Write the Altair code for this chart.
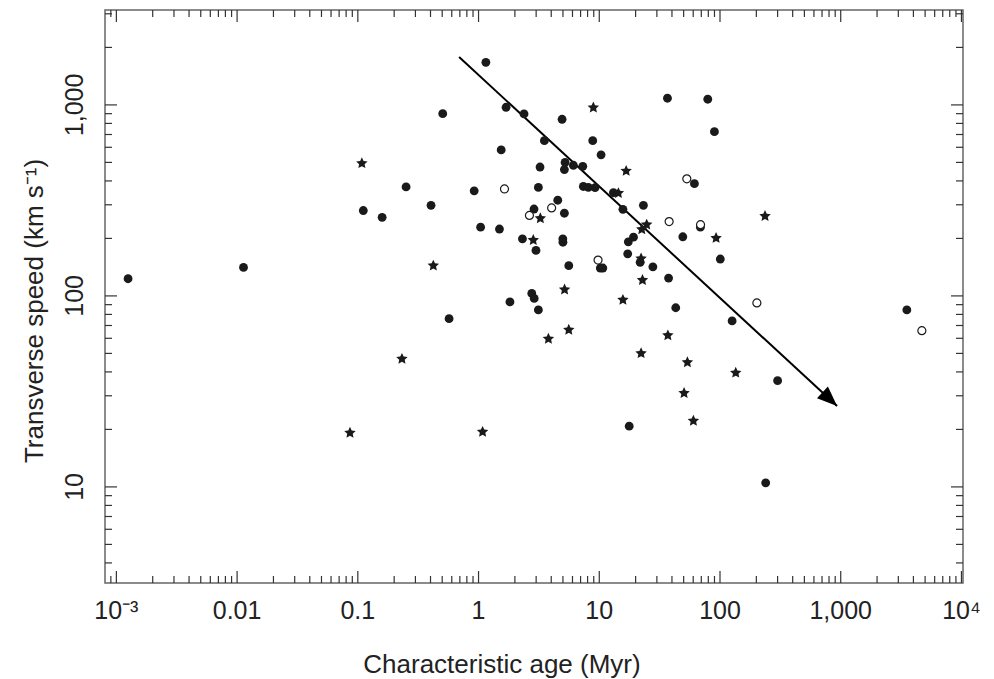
import altair as alt
import pandas as pd

# ---------------- data ----------------
# filled circles
filled_age = [0.00125, 0.0113, 0.111, 0.159, 0.251, 0.404, 0.505, 0.57, 0.92, 1.15,
              1.04, 1.49, 1.54, 1.69, 1.82, 2.31, 2.38, 2.76, 2.89, 2.99,
              2.88, 3.13, 3.13, 3.23, 3.51, 4.53, 4.92, 4.99, 5.0, 5.14,
              5.21, 5.14, 6.10, 7.30, 5.59, 7.38, 8.12, 9.23, 8.83, 10.35,
              10.2, 10.7, 13.1, 15.7, 17.2, 17.4, 19.2, 17.7, 21.8, 23.2,
              27.8, 37.5, 36.7, 43.0, 49.2, 61.4, 68.8, 79.2, 89.9, 100.6,
              126, 300, 239, 3530]
filled_speed = [123, 141, 280, 258, 372, 298, 900, 76, 355, 1670,
                229, 224, 581, 972, 93, 199, 897, 103, 97, 173,
                285, 370, 84.5, 473, 650, 317, 841, 199, 191, 271,
                500, 459, 483, 477, 144, 374, 370, 369, 650, 548,
                140, 140, 347, 284, 166, 192, 203, 20.8, 150, 298,
                142, 124, 1084, 86.7, 204, 387, 229, 1071, 724, 156,
                74, 36, 10.5, 84.5]

# stars
star_age = [0.108, 0.422, 0.232, 0.0861, 1.08, 3.25, 2.84, 3.79, 5.59, 5.16,
            8.93, 14.4, 16.7, 15.7, 22.2, 22.8, 22.2, 24.7, 22.5, 37.0,
            53.7, 50.4, 60.2, 92.8, 135, 236]
star_speed = [495, 144, 46.8, 19.2, 19.4, 255, 196, 59.6, 66.4, 108,
              968, 345, 451, 95.3, 157, 121, 50.1, 236, 223, 62.1,
              44.9, 31.0, 22.2, 201, 39.6, 262]

# open circles
open_age = [1.64, 2.64, 4.03, 9.77, 37.9, 53.1, 69, 202, 4700]
open_speed = [363, 264, 289, 154, 245, 410, 236, 91.9, 65.8]

# arrow (start, tip)
arrow_age = [0.69, 933]
arrow_speed = [1782, 26.5]

# axis ticks / labels / titles
x_major = [0.001, 0.01, 0.1, 1, 10, 100, 1000, 10000]
x_major_labels = ["10⁻³", "0.01", "0.1", "1", "10", "100", "1,000", "10⁴"]
y_major = [10, 100, 1000]
y_major_labels = ["10", "100", "1,000"]
minor_mult = [2, 3, 4, 5, 6, 7, 8, 9]
x_title = "Characteristic age (Myr)"
y_title = "Transverse speed (km s⁻¹)"

# ---------------- layout ----------------
W, H = 858, 573
X_DOMAIN = [0.000805, 10300]
Y_DOMAIN = [3.14, 3140]
FONT = "Liberation Sans"
INK = "#1a1a1a"
TICK = "#333333"
TEXT = "#222222"
MAJ, MIN = 12, 7
STAR = ("M0,-1L0.282,-0.388L0.951,-0.309L0.456,0.148L0.588,0.809L0,0.48"
        "L-0.588,0.809L-0.456,0.148L-0.951,-0.309L-0.282,-0.388Z")
HEAD = "M0,0L-2,-0.8L-2,0.8Z"

x_minor = [m * 10.0 ** k for k in range(-4, 4) for m in minor_mult
           if X_DOMAIN[0] <= m * 10.0 ** k <= X_DOMAIN[1]]
y_minor = [m * 10.0 ** k for k in range(0, 4) for m in minor_mult
           if Y_DOMAIN[0] <= m * 10.0 ** k <= Y_DOMAIN[1]]

xscale = alt.Scale(type="log", domain=X_DOMAIN, nice=False)
yscale = alt.Scale(type="log", domain=Y_DOMAIN, nice=False)


def Xn():
    return alt.X("age:Q", scale=xscale, axis=None)


def Yn():
    return alt.Y("speed:Q", scale=yscale, axis=None)


df_f = pd.DataFrame({"age": filled_age, "speed": filled_speed})
df_s = pd.DataFrame({"age": star_age, "speed": star_speed})
df_o = pd.DataFrame({"age": open_age, "speed": open_speed})
df_a = pd.DataFrame({"age": arrow_age, "speed": arrow_speed})
df_tip = df_a.iloc[[1]]

filled = alt.Chart(df_f).mark_point(shape="circle", filled=True, size=78, color=INK,
                                    opacity=1).encode(x=Xn(), y=Yn())
stars = alt.Chart(df_s).mark_point(shape=STAR, filled=True, size=145, color=INK,
                                   opacity=1).encode(x=Xn(), y=Yn())
opens = alt.Chart(df_o).mark_point(shape="circle", filled=True, size=64, fill="white",
                                   stroke=INK, strokeWidth=1.2, opacity=1).encode(x=Xn(), y=Yn())

arrow_line = alt.Chart(df_a).mark_line(color="black", strokeWidth=2).encode(x=Xn(), y=Yn())
arrow_head = alt.Chart(df_tip).mark_point(shape=HEAD, filled=True,
                                          size=400, angle=43, color="black",
                                          opacity=1).encode(x=Xn(), y=Yn())

df_xmaj = pd.DataFrame({"age": x_major, "label": x_major_labels})
df_xmin = pd.DataFrame({"age": x_minor})
df_ymaj = pd.DataFrame({"speed": y_major, "label": y_major_labels})
df_ymin = pd.DataFrame({"speed": y_minor})


def xticks(df, L):
    base = alt.Chart(df).mark_rule(color=TICK, strokeWidth=1.2)
    return [base.encode(x=Xn(), y=alt.value(H), y2=alt.value(H - L)),
            base.encode(x=Xn(), y=alt.value(0), y2=alt.value(L))]


def yticks(df, L):
    base = alt.Chart(df).mark_rule(color=TICK, strokeWidth=1.2)
    return [base.encode(y=Yn(), x=alt.value(0), x2=alt.value(L)),
            base.encode(y=Yn(), x=alt.value(W), x2=alt.value(W - L))]


x_labels = alt.Chart(df_xmaj).mark_text(font=FONT, fontSize=25, color=TEXT, align="center",
                                        baseline="alphabetic").encode(
    x=Xn(), y=alt.value(H + 36), text="label:N")
y_labels = alt.Chart(df_ymaj).mark_text(font=FONT, fontSize=25, color=TEXT, align="center",
                                        baseline="alphabetic", angle=270).encode(
    y=Yn(), x=alt.value(-22), text="label:N")
x_title_mark = alt.Chart(pd.DataFrame({"t": [x_title]})).mark_text(
    font=FONT, fontSize=26, color=TEXT, align="center", baseline="alphabetic").encode(
    x=alt.value(397), y=alt.value(H + 90), text="t:N")
y_title_mark = alt.Chart(pd.DataFrame({"t": [y_title]})).mark_text(
    font=FONT, fontSize=26, color=TEXT, align="center", baseline="alphabetic", angle=270).encode(
    x=alt.value(-62), y=alt.value(301), text="t:N")

layers = (xticks(df_xmaj, MAJ) + xticks(df_xmin, MIN) + yticks(df_ymaj, MAJ) + yticks(df_ymin, MIN)
          + [x_labels, y_labels, x_title_mark, y_title_mark, arrow_line, arrow_head,
             filled, stars, opens])

chart = alt.layer(*layers).properties(
    width=W, height=H,
    autosize=alt.AutoSizeParams(type="none"),
    padding={"left": 105, "top": 10, "right": 31, "bottom": 96},
    background="white",
).configure_view(stroke="#666666", strokeWidth=1.5)

chart.save("out.html", embed_options={"renderer": "svg", "actions": False})
